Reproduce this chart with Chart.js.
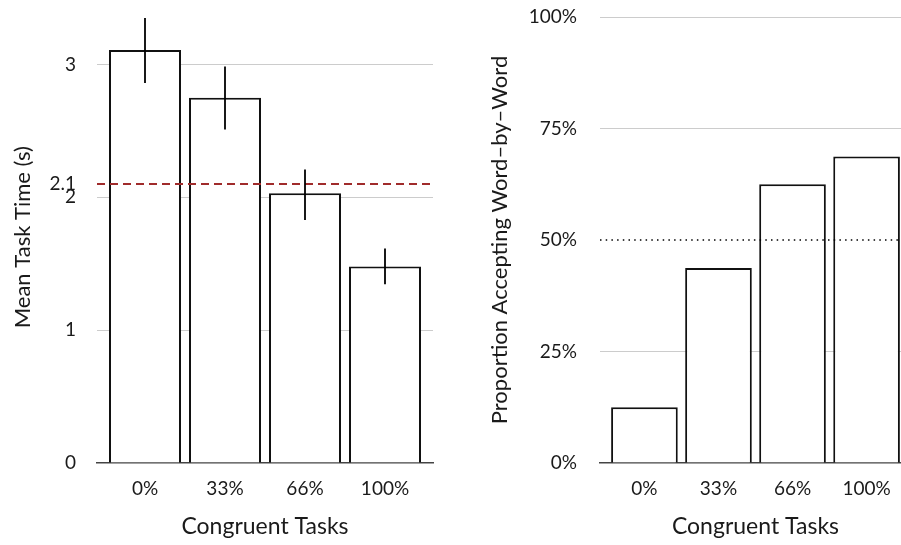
<!DOCTYPE html>
<html>
<head>
<meta charset="utf-8">
<script src="https://cdn.jsdelivr.net/npm/chart.js@4/dist/chart.umd.min.js"></script>
<style>
  html, body { margin: 0; padding: 0; background: #fff; overflow: hidden; width: 901px; height: 545px; }
  #timeChart { position: absolute; left: 0; top: 0; }
  #acceptChart { position: absolute; left: 450px; top: 0; }
</style>
</head>
<body>
<canvas id="timeChart" width="450" height="545"></canvas>
<canvas id="acceptChart" width="470" height="545"></canvas>
<script>
// Conditions: share of congruent tasks
const categories = ['0%', '33%', '66%', '100%'];

// Left panel: mean task time (s) with error bar bounds
const meanTaskTime = [3.11, 2.75, 2.03, 1.48];
const taskTimeLow = [2.86, 2.51, 1.83, 1.345];
const taskTimeHigh = [3.35, 2.985, 2.21, 1.615];
const timeThreshold = 2.1;
const timeTicks = [0, 1, 2, 2.1, 3];

// Right panel: proportion accepting word-by-word (%)
const acceptingWbw = [12.5, 43.75, 62.5, 68.75];
const acceptThreshold = 50;
const pctTicks = [0, 25, 50, 75, 100];

const FONT = 'Lato, "Source Sans Pro", "Noto Sans", sans-serif';
const TEXT = '#1a1a1a';
const tickFont = { family: FONT, size: 19 };

// Reference line + vertical error bars drawn over the bars
const overlay = {
  id: 'overlay',
  afterDatasetsDraw(chart, args, opts) {
    const { ctx, chartArea, scales: { x, y } } = chart;
    ctx.save();
    if (opts.refValue != null) {
      const py = y.getPixelForValue(opts.refValue);
      ctx.strokeStyle = opts.refColor;
      ctx.lineWidth = opts.refWidth;
      ctx.setLineDash(opts.refDash);
      ctx.beginPath();
      ctx.moveTo(chartArea.left, py);
      ctx.lineTo(chartArea.right, py);
      ctx.stroke();
      ctx.setLineDash([]);
    }
    if (opts.low && opts.high) {
      ctx.strokeStyle = '#000';
      ctx.lineWidth = 1.8;
      opts.low.forEach((lo, i) => {
        const px = x.getPixelForValue(i);
        ctx.beginPath();
        ctx.moveTo(px, y.getPixelForValue(lo));
        ctx.lineTo(px, y.getPixelForValue(opts.high[i]));
        ctx.stroke();
      });
    }
    ctx.restore();
  }
};

function xScale() {
  return {
    type: 'linear',
    offset: false,
    min: -0.6,
    max: 3.6,
    afterBuildTicks: s => { s.ticks = categories.map((_, i) => ({ value: i })); },
    afterFit: s => { s.height = 82; },
    grid: { display: false, drawTicks: false },
    border: { display: true, color: '#444', width: 1.5 },
    ticks: {
      callback: v => categories[v],
      font: tickFont, color: TEXT, padding: 14,
      maxRotation: 0, autoSkip: false
    },
    title: {
      display: true, text: 'Congruent Tasks',
      font: { family: FONT, size: 23 }, color: TEXT,
      padding: { top: 0, bottom: 5 }
    }
  };
}

function yScale(max, ticks, hidden, fmt, width, tickGap, title, titleSize, titlePad) {
  return {
    min: 0,
    max: max,
    afterBuildTicks: s => { s.ticks = ticks.map(v => ({ value: v })); },
    afterFit: s => { s.width = width; },
    grid: {
      drawTicks: true,
      tickLength: tickGap,
      tickColor: 'rgba(0,0,0,0)',
      lineWidth: 1,
      color: c => (c.tick && hidden.includes(c.tick.value)) ? 'rgba(0,0,0,0)' : '#cccccc'
    },
    border: { display: false },
    ticks: { callback: fmt, font: tickFont, color: TEXT, padding: 0, crossAlign: 'near', autoSkip: false },
    title: {
      display: true, text: title,
      font: { family: FONT, size: titleSize }, color: TEXT,
      padding: { top: titlePad, bottom: 0 }
    }
  };
}

function barDataset(values) {
  return {
    data: values.map((v, i) => ({ x: i, y: v })),
    backgroundColor: '#ffffff',
    borderColor: '#111111',
    borderWidth: 2,
    barPercentage: 0.9,
    categoryPercentage: 1.0
  };
}

new Chart(document.getElementById('timeChart'), {
  type: 'bar',
  data: { datasets: [barDataset(meanTaskTime)] },
  options: {
    responsive: false,
    animation: false,
    layout: { padding: { top: 10.5, right: 17, bottom: 0, left: 0 } },
    plugins: {
      legend: { display: false },
      tooltip: { enabled: false },
      overlay: {
        refValue: timeThreshold, refColor: '#a02b2b', refWidth: 2, refDash: [8, 5],
        low: taskTimeLow, high: taskTimeHigh
      }
    },
    scales: {
      x: xScale(),
      y: yScale(3.4, timeTicks, [0, timeThreshold], v => String(v), 97, 21, 'Mean Task Time (s)', 22, 10)
    }
  },
  plugins: [overlay]
});

new Chart(document.getElementById('acceptChart'), {
  type: 'bar',
  data: { datasets: [barDataset(acceptingWbw)] },
  options: {
    responsive: false,
    animation: false,
    layout: { padding: { top: 17, right: 9, bottom: 0, left: 0 } },
    plugins: {
      legend: { display: false },
      tooltip: { enabled: false },
      overlay: {
        refValue: acceptThreshold, refColor: '#000000', refWidth: 1.5, refDash: [1.5, 4.2]
      }
    },
    scales: {
      x: xScale(),
      y: yScale(100, pctTicks, [0, acceptThreshold], v => v + '%', 150, 23, 'Proportion Accepting Word\u2013by\u2013Word', 22, 37)
    }
  },
  plugins: [overlay]
});
</script>
</body>
</html>
